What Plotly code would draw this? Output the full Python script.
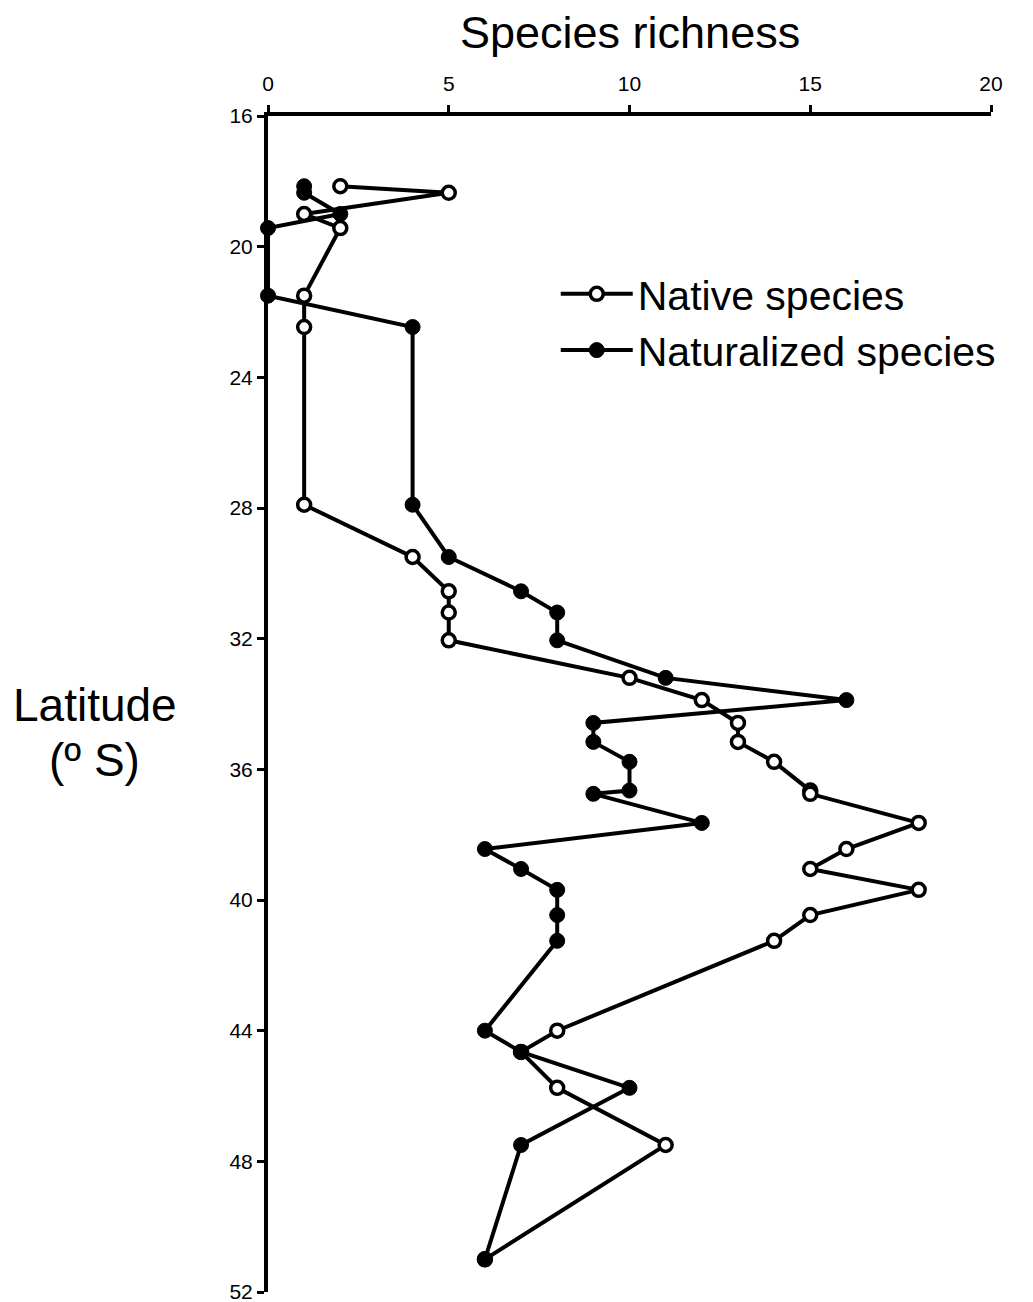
import plotly.graph_objects as go

latitude = [18.15, 18.35, 19.0, 19.43, 21.5, 22.46, 27.9, 29.5, 30.55, 31.2, 32.05,
            33.2, 33.88, 34.58, 35.16, 35.77, 36.65, 36.75, 37.64, 38.44, 39.05,
            39.69, 40.46, 41.25, 44.0, 44.65, 45.75, 47.5, 51.0]
native = [2, 5, 1, 2, 1, 1, 1, 4, 5, 5, 5, 10, 12, 13, 13, 14, 15, 15, 18, 16, 15,
          18, 15, 14, 8, 7, 8, 11, 6]
naturalized = [1, 1, 2, 0, 0, 4, 4, 5, 7, 8, 8, 11, 16, 9, 9, 10, 10, 9, 12, 6, 7,
               8, 8, 8, 6, 7, 10, 7, 6]
x_ticks = [0, 5, 10, 15, 20]
y_ticks = [16, 20, 24, 28, 32, 36, 40, 44, 48, 52]

FONT = "Liberation Sans, Arial, sans-serif"

fig = go.Figure()
fig.add_trace(go.Scatter(
    x=native, y=latitude, mode="lines+markers", name="Native species",
    line=dict(color="black", width=4),
    marker=dict(symbol="circle", size=13, color="white", line=dict(color="black", width=3.5)),
    cliponaxis=False,
))
fig.add_trace(go.Scatter(
    x=naturalized, y=latitude, mode="lines+markers", name="Naturalized species",
    line=dict(color="black", width=4),
    marker=dict(symbol="circle", size=15, color="black", line=dict(color="black", width=1)),
    cliponaxis=False,
))

fig.update_layout(
    width=1025, height=1294,
    margin=dict(l=260, r=42, t=108, b=10, autoexpand=False),
    paper_bgcolor="white", plot_bgcolor="white",
    font=dict(family=FONT, color="black"),
    showlegend=True,
    legend=dict(x=0.398, y=0.877, xanchor="left", yanchor="top",
                font=dict(size=41, family=FONT), bgcolor="rgba(0,0,0,0)",
                itemwidth=72, tracegroupgap=0),
    xaxis=dict(range=[0, 20], side="top", tickvals=x_ticks, showgrid=False,
               zeroline=False, showline=True, linewidth=4, linecolor="black",
               ticks="outside", ticklen=7, tickwidth=3, tickcolor="black",
               ticklabelstandoff=6, ticklabeloverflow="allow", automargin=False,
               tickfont=dict(size=21, family=FONT)),
    yaxis=dict(range=[52, 16], tickvals=y_ticks, showgrid=False,
               zeroline=False, showline=True, linewidth=4, linecolor="black",
               ticks="outside", ticklen=7, tickwidth=3, tickcolor="black",
               ticklabeloverflow="allow", automargin=False,
               tickfont=dict(size=21, family=FONT)),
    annotations=[
        dict(text="Species richness", xref="paper", yref="paper", x=0.5, y=1.0714,
             xanchor="center", yanchor="middle", showarrow=False,
             font=dict(size=45, family=FONT)),
        dict(text="Latitude", xref="paper", yref="paper", x=-0.2393, y=0.4991,
             xanchor="center", yanchor="middle", showarrow=False,
             font=dict(size=46, family=FONT)),
        dict(text="(º S)", xref="paper", yref="paper", x=-0.2393, y=0.4524,
             xanchor="center", yanchor="middle", showarrow=False,
             font=dict(size=46, family=FONT)),
    ],
)

fig.write_html("out.html")
